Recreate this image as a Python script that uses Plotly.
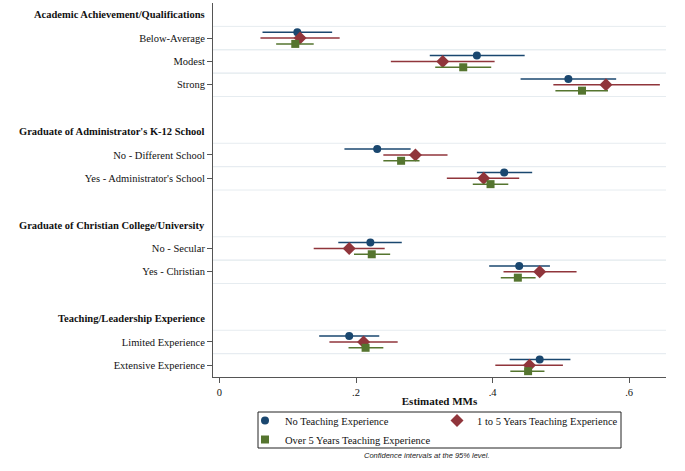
import plotly.graph_objects as go

groups = ["Academic Achievement/Qualifications",
          "Graduate of Administrator's K-12 School",
          "Graduate of Christian College/University",
          "Teaching/Leadership Experience"]
levels = [["Below-Average", "Modest", "Strong"],
          ["No - Different School", "Yes - Administrator's School"],
          ["No - Secular", "Yes - Christian"],
          ["Limited Experience", "Extensive Experience"]]

series_names = ["No Teaching Experience", "1 to 5 Years Teaching Experience",
                "Over 5 Years Teaching Experience"]

est_none = [0.114, 0.377, 0.511, 0.231, 0.417, 0.221, 0.439, 0.190, 0.469]
lo_none  = [0.063, 0.308, 0.441, 0.183, 0.377, 0.174, 0.395, 0.146, 0.425]
hi_none  = [0.165, 0.447, 0.581, 0.280, 0.458, 0.267, 0.484, 0.234, 0.514]

est_1to5 = [0.118, 0.327, 0.566, 0.287, 0.387, 0.190, 0.469, 0.211, 0.454]
lo_1to5  = [0.060, 0.251, 0.489, 0.240, 0.333, 0.138, 0.416, 0.161, 0.404]
hi_1to5  = [0.176, 0.403, 0.645, 0.334, 0.439, 0.242, 0.523, 0.261, 0.503]

est_over5 = [0.111, 0.357, 0.531, 0.266, 0.397, 0.223, 0.437, 0.214, 0.452]
lo_over5  = [0.083, 0.316, 0.492, 0.240, 0.371, 0.197, 0.412, 0.189, 0.426]
hi_over5  = [0.138, 0.398, 0.569, 0.293, 0.423, 0.250, 0.463, 0.240, 0.476]

x_ticks = [0, 0.2, 0.4, 0.6]
x_ticklabels = ["0", ".2", ".4", ".6"]

colors = ["#1a476f", "#90353b", "#55752f"]
symbols = ["circle", "diamond", "square"]
sizes = [8, 10, 8]
offsets = [-0.25, 0.0, 0.25]

# compute row positions
header_pos = []
item_pos = []
item_labels = []
r = 0
for g, lv in zip(groups, levels):
    header_pos.append(r)
    r += 1
    for l in lv:
        item_pos.append(r)
        item_labels.append(l)
        r += 1
    r += 1
last_row = item_pos[-1]

serif = "Liberation Serif, Times New Roman, serif"
FS = 10.5
fig = go.Figure()

data = [(est_none, lo_none, hi_none), (est_1to5, lo_1to5, hi_1to5),
        (est_over5, lo_over5, hi_over5)]
for k, (est, lo, hi) in enumerate(data):
    fig.add_trace(go.Scatter(
        x=est, y=[p + offsets[k] for p in item_pos], mode="markers",
        name=series_names[k],
        marker=dict(color=colors[k], symbol=symbols[k], size=sizes[k]),
        error_x=dict(type="data", symmetric=False,
                     array=[h - e for h, e in zip(hi, est)],
                     arrayminus=[e - l for e, l in zip(est, lo)],
                     color=colors[k], thickness=1.5, width=0),
    ))

shapes = []
for p in item_pos:
    for yy in (p - 0.5, p + 0.5):
        if yy < last_row + 0.4:
            shapes.append(dict(type="line", xref="paper", yref="y", x0=0, x1=1,
                               y0=yy, y1=yy, line=dict(color="#e6ecf0", width=1),
                               layer="below"))
# legend frame
shapes.append(dict(type="rect", xref="paper", yref="paper",
                   x0=(258 - 213) / 453, x1=(621 - 213) / 453,
                   y0=(377 - 412) / 374, y1=(377 - 448) / 374,
                   line=dict(color="#222", width=1), fillcolor="rgba(0,0,0,0)"))

annotations = []
for g, p in zip(groups, header_pos):
    annotations.append(dict(text="<b>" + g + "</b>", xref="paper", yref="y",
                            x=0, y=p, xanchor="right", yanchor="middle",
                            xshift=-6, showarrow=False,
                            font=dict(family=serif, size=FS, color="#111")))
annotations.append(dict(text="<i>Confidence intervals at the 95% level.</i>",
                        xref="paper", yref="paper", x=0.472, y=-0.211,
                        xanchor="center", yanchor="middle", showarrow=False,
                        font=dict(family="Liberation Sans, Arial, sans-serif",
                                  size=7.5, color="#222")))

fig.update_layout(
    width=685, height=471,
    margin=dict(l=213, r=19, t=3, b=94, autoexpand=False),
    paper_bgcolor="white", plot_bgcolor="white",
    shapes=shapes, annotations=annotations,
    font=dict(family=serif, size=FS, color="#111"),
    xaxis=dict(range=[-0.0095, 0.654], tickvals=x_ticks, ticktext=x_ticklabels,
               showgrid=False, zeroline=False, showline=True, linecolor="#555",
               linewidth=1, ticks="outside", ticklen=5, tickcolor="#555",
               automargin=False,
               title=dict(text="<b>Estimated MMs</b>", standoff=0,
                          font=dict(family=serif, size=FS + 0.5)),
               tickfont=dict(family=serif, size=FS)),
    yaxis=dict(range=[last_row + 0.5, -0.5], tickvals=item_pos, ticktext=item_labels,
               showgrid=False, zeroline=False, showline=True, linecolor="#555",
               linewidth=1, ticks="outside", ticklen=5, tickcolor="#555",
               automargin=False,
               tickfont=dict(family=serif, size=FS)),
    showlegend=True,
    legend=dict(orientation="h", x=(245 - 213) / 453, y=(377 - 406) / 374,
                xanchor="left", yanchor="top",
                entrywidth=147, itemwidth=30, borderwidth=0,
                bgcolor="rgba(0,0,0,0)", font=dict(family=serif, size=FS),
                itemsizing="trace", tracegroupgap=0),
)

fig.write_html("out.html", config={"displayModeBar": False},
               post_script="document.body.style.margin='0';document.body.style.padding='0';")
